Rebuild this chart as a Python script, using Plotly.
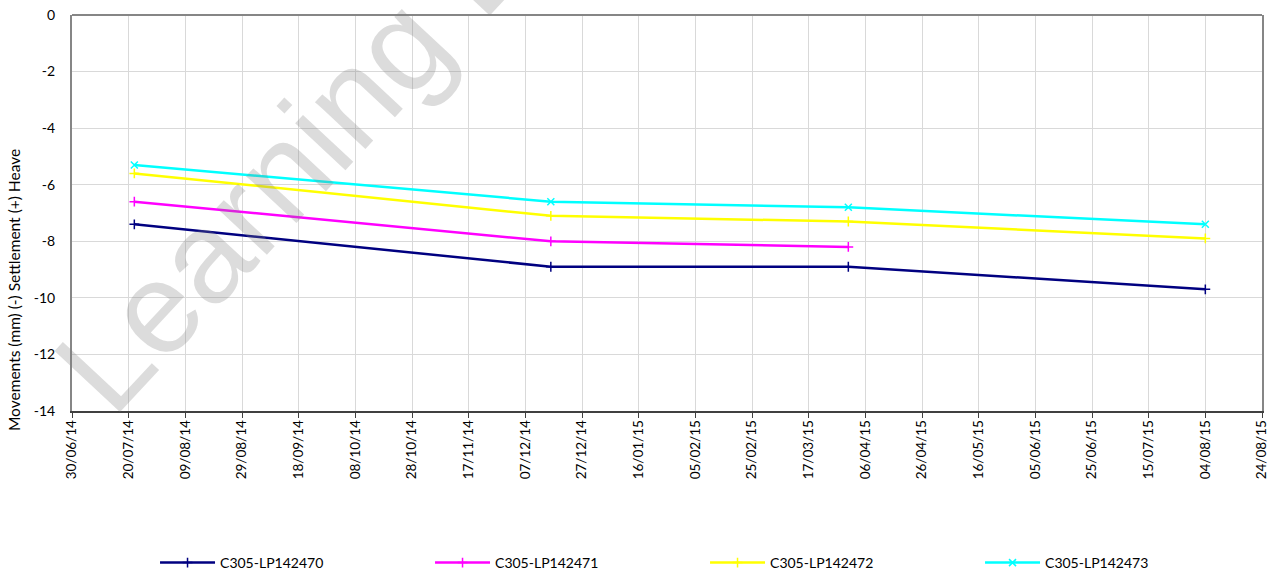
import plotly.graph_objects as go

dates = ["2014-07-22", "2014-12-16", "2015-03-31", "2015-08-04"]
lp142470 = [-7.4, -8.9, -8.9, -9.7]
lp142471 = [-6.6, -8.0, -8.2, None]
lp142472 = [-5.6, -7.1, -7.3, -7.9]
lp142473 = [-5.3, -6.6, -6.8, -7.4]

names = ["C305-LP142470", "C305-LP142471", "C305-LP142472", "C305-LP142473"]
colors = ["#000080", "#FF00FF", "#FFFF00", "#00FFFF"]
symbols = ["cross-thin-open", "cross-thin-open", "cross-thin-open", "x-thin-open"]
series = [lp142470, lp142471, lp142472, lp142473]

y_tickvals = [0, -2, -4, -6, -8, -10, -12, -14]
y_ticktext = ["0", "-2", "-4", "-6", "-8", "-10", "-12", "-14"]

FONT = "Lato"

fig = go.Figure()
for nm, col, sym, vals in zip(names, colors, symbols, series):
    xs = [d for d, v in zip(dates, vals) if v is not None]
    ys = [v for v in vals if v is not None]
    fig.add_trace(go.Scatter(
        x=xs, y=ys, name=nm, mode="lines+markers",
        line=dict(color=col, width=2.5),
        marker=dict(symbol=sym, size=7, color=col, line=dict(color=col, width=1.5)),
    ))

fig.update_layout(
    width=1277, height=573,
    margin=dict(l=72, r=15, t=15, b=162),
    plot_bgcolor="white", paper_bgcolor="white",
    font=dict(family=FONT, size=14, color="#000000"),
    showlegend=True,
    legend=dict(
        orientation="h", xref="container", yref="container",
        x=0.1214, xanchor="left", y=0.01745, yanchor="middle",
        entrywidth=205, entrywidthmode="pixels", itemwidth=55,
        font=dict(family=FONT, size=14, color="#000000"),
        bgcolor="rgba(0,0,0,0)",
    ),
    xaxis=dict(
        type="date", automargin=False, ticklabeloverflow="allow",
        range=["2014-06-30", "2015-08-24"],
        tick0="2014-06-30", dtick=20 * 86400000,
        tickformat="%d/%m/%y", tickangle=-90,
        showgrid=True, gridcolor="#D9D9D9", gridwidth=1,
        showline=True, linecolor="#404040", linewidth=1.5,
        ticks="outside", ticklen=5, tickcolor="#404040",
        ticklabelstandoff=-3,
        tickfont=dict(family=FONT, size=13.5, color="#000000"),
        zeroline=False,
    ),
    yaxis=dict(
        range=[-14, 0], automargin=False, ticklabeloverflow="allow",
        tickmode="array", tickvals=y_tickvals, ticktext=y_ticktext,
        showgrid=True, gridcolor="#D9D9D9", gridwidth=1,
        showline=True, linecolor="#868686", linewidth=2, mirror=True,
        ticks="", ticklabelstandoff=12,
        tickfont=dict(family=FONT, size=14, color="#000000"),
        zeroline=False,
    ),
    shapes=[dict(type="line", xref="paper", yref="paper", x0=0, x1=1, y0=1, y1=1,
                 line=dict(color="#868686", width=2))],
    annotations=[
        dict(text="Movements (mm) (-) Settlement (+) Heave", xref="paper", yref="paper",
             x=-0.0487, y=0.3056, xanchor="center", yanchor="middle", textangle=-90,
             showarrow=False, font=dict(family=FONT, size=15.5, color="#000000")),
        dict(text="Learning E", xref="paper", yref="paper", x=0.187, y=0.636,
             xanchor="center", yanchor="middle", textangle=-47, showarrow=False,
             font=dict(family="Liberation Sans", size=130, color="rgba(128,128,128,0.28)")),
    ],
)

fig.write_html("out.html", post_script="document.body.style.margin='0';",
               config={"displayModeBar": False})
